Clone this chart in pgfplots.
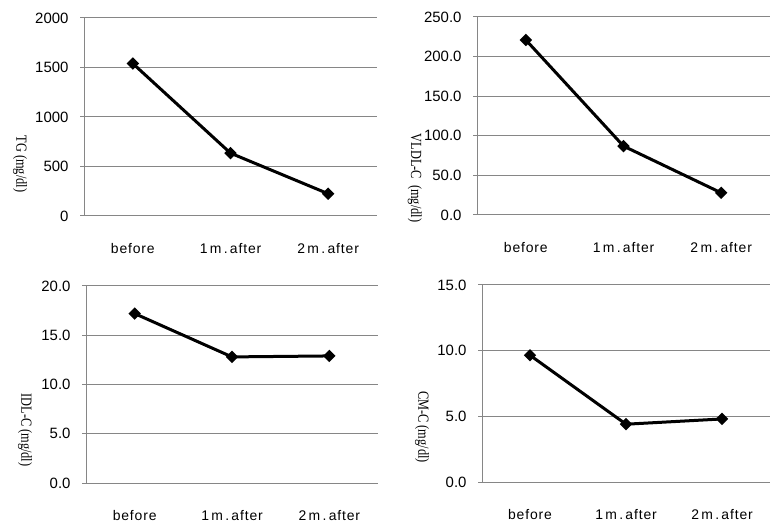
\documentclass[border=0pt]{standalone}
\usepackage{fontspec}
\setmainfont{Liberation Serif}
\newfontfamily\tickfont{Liberation Sans}
\newfontfamily\xtickfont[LetterSpace=6]{Liberation Sans}
\newfontfamily\labfont[FakeStretch=0.8]{Liberation Serif}
\usepackage{pgfplots}
\pgfplotsset{compat=1.18}
\definecolor{gridgray}{RGB}{134,134,134}

\pgfplotsset{
  panel/.style={
    scale only axis,
    anchor=south west,
    xmin=-0.5, xmax=2.5,
    xtick={0,1,2},
    xticklabels={before,{1\,m\,.\,after},{2\,m\,.\,after}},
    ymin=0,
    axis lines*=left,
    axis line style={gridgray, line width=1bp},
    ymajorgrids,
    grid style={gridgray, line width=1bp},
    x tick style={draw=none},
    y tick style={gridgray, line width=1bp},
    tick align=outside,
    major tick length=4bp,
    yticklabel style={font=\tickfont\fontsize{15}{15}\selectfont, xshift=-8bp},
    xticklabel style={font=\xtickfont\fontsize{14}{14}\selectfont,
      anchor=center, yshift=-29bp},
    /pgf/number format/assume math mode=true,
    /pgf/number format/1000 sep={},
    ylabel style={font=\labfont\fontsize{15.5}{15.5}\selectfont, rotate=180, anchor=center},
  },
  onedec/.style={
    yticklabel style={/pgf/number format/.cd, fixed, fixed zerofill, precision=1},
  },
  series/.style={black, line width=3bp, mark=square*, mark size=2.9bp,
    mark options={solid, fill=black, rotate=45}},
}

\begin{document}
\begin{tikzpicture}
  % top left: TG
  \begin{axis}[panel, at={(84bp,308bp)}, width=293bp, height=198bp,
      ymax=2000, ytick={0,500,1000,1500,2000},
      ylabel={TG (mg/dl)},
      ylabel style={at={(axis description cs:-0.218,0.263)}}]
    \addplot[series] coordinates {(0,1540) (1,635) (2,225)};
  \end{axis}
  % top right: VLDL-C
  \begin{axis}[panel, onedec, at={(477bp,309bp)}, width=293bp, height=198bp,
      ymax=250, ytick={0,50,100,150,200,250},
      ylabel={VLDL-C\ \ (mg/dl)},
      ylabel style={at={(axis description cs:-0.212,0.187)}}]
    \addplot[series] coordinates {(0,221) (1,87) (2,28)};
  \end{axis}
  % bottom left: IDL-C
  \begin{axis}[panel, onedec, at={(86bp,41bp)}, width=292bp, height=197bp,
      ymax=20, ytick={0,5,10,15,20},
      ylabel={IDL-C\ (mg/dl)},
      ylabel style={at={(axis description cs:-0.209,0.269)}}]
    \addplot[series] coordinates {(0,17.2) (1,12.8) (2,12.9)};
  \end{axis}
  % bottom right: CM-C
  \begin{axis}[panel, onedec, at={(482bp,42bp)}, width=288bp, height=197bp,
      ymax=15, ytick={0,5,10,15},
      ylabel={CM-C\ (mg/dl)},
      ylabel style={at={(axis description cs:-0.208,0.279)}}]
    \addplot[series] coordinates {(0,9.65) (1,4.4) (2,4.8)};
  \end{axis}
  \pgfresetboundingbox
  \path (0,0) rectangle (776bp,524bp);
\end{tikzpicture}
\end{document}
